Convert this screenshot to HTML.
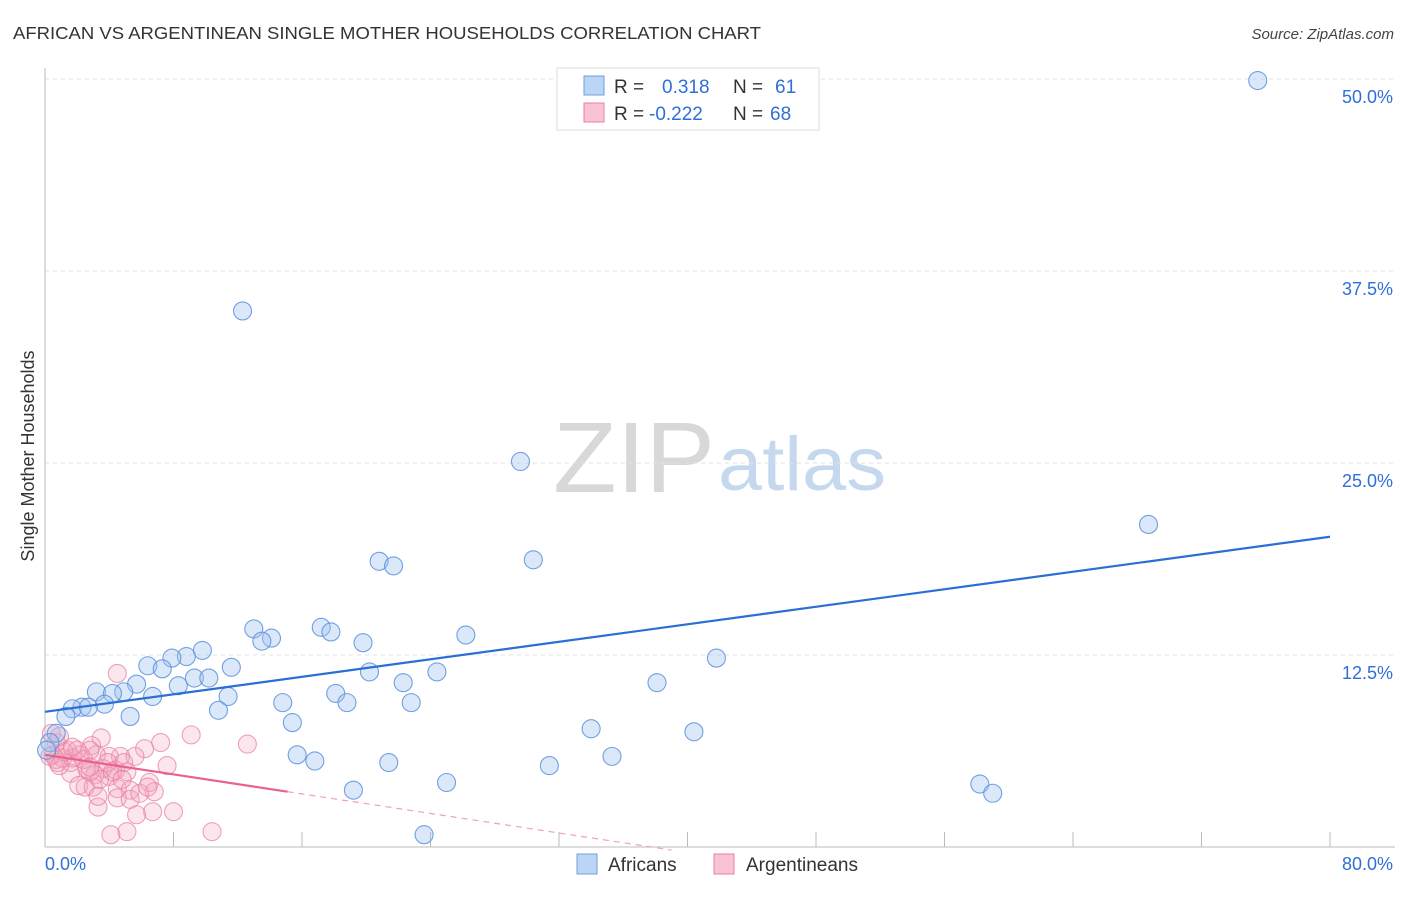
<!DOCTYPE html>
<html><head><meta charset="utf-8"><style>
body{margin:0;background:#fff;font-family:"Liberation Sans",sans-serif;}
svg text{font-family:"Liberation Sans",sans-serif;}
</style></head><body>
<svg id="chart" width="1406" height="892" xmlns="http://www.w3.org/2000/svg">
<text x="13" y="39" font-size="17.5" fill="#333" textLength="748" lengthAdjust="spacingAndGlyphs">AFRICAN VS ARGENTINEAN SINGLE MOTHER HOUSEHOLDS CORRELATION CHART</text>
<text x="1394" y="39" font-size="15" fill="#444" text-anchor="end" font-style="italic">Source: ZipAtlas.com</text>
<text x="553" y="492" font-size="100" fill="#d8d8d8" font-family="Liberation Serif,serif" textLength="162" lengthAdjust="spacingAndGlyphs">ZIP</text>
<text x="718" y="490" font-size="76" fill="#c5d8ee" textLength="168" lengthAdjust="spacingAndGlyphs">atlas</text>
<text transform="translate(34,456) rotate(-90)" font-size="18" fill="#333" text-anchor="middle">Single Mother Households</text>
<g id="grid"></g><g id="marks"></g>
<g>
<rect x="557" y="68" width="262" height="62" fill="#fff" stroke="#ddd"/>
<rect x="584" y="76" width="20" height="19" fill="#bcd4f5" stroke="#6a9fe0"/>
<rect x="584" y="103" width="20" height="19" fill="#f8c4d4" stroke="#e87fa0"/>
<text x="614" y="93" font-size="19" fill="#333">R =</text>
<text x="662" y="93" font-size="19" fill="#2f6fd6">0.318</text>
<text x="733" y="93" font-size="19" fill="#333">N =</text>
<text x="775" y="93" font-size="19" fill="#2f6fd6">61</text>
<text x="614" y="120" font-size="19" fill="#333">R =</text>
<text x="649" y="120" font-size="19" fill="#2f6fd6">-0.222</text>
<text x="733" y="120" font-size="19" fill="#333">N =</text>
<text x="770" y="120" font-size="19" fill="#2f6fd6">68</text>
</g>
<g>
<rect x="577" y="854" width="20" height="20" fill="#bcd4f5" stroke="#6a9fe0"/>
<text x="608" y="871" font-size="19" fill="#333">Africans</text>
<rect x="714" y="854" width="20" height="20" fill="#f8c4d4" stroke="#e87fa0"/>
<text x="746" y="871" font-size="19" fill="#333">Argentineans</text>
</g>
</svg>
<script>
const yTicks=[12.5,25,37.5,50];
const yTickLabels=["12.5%","25.0%","37.5%","50.0%"];
const xTicks=[0,8,16,24,32,40,48,56,64,72,80];
const africansX=[75.5,12.3,29.6,68.7,30.4,20.8,21.7,13.0,17.2,17.8,14.1,13.5,19.8,26.2,9.8,8.8,7.9,6.4,7.3,11.6,41.8,20.2,24.4,9.3,10.2,8.3,5.7,22.3,38.1,3.2,4.9,4.2,6.7,11.4,18.1,18.8,22.8,14.8,10.8,2.3,1.7,3.7,2.7,1.3,5.3,15.4,34.0,40.4,0.7,0.3,15.7,16.8,35.3,21.4,31.4,25.0,19.2,58.2,59.0,23.6,0.1];
const africansY=[49.9,34.9,25.1,21.0,18.7,18.6,18.3,14.2,14.3,14.0,13.6,13.4,13.3,13.8,12.8,12.4,12.3,11.8,11.6,11.7,12.3,11.4,11.4,11.0,11.0,10.5,10.6,10.7,10.7,10.1,10.1,10.0,9.8,9.8,10.0,9.4,9.4,9.4,8.9,9.1,9.0,9.3,9.1,8.5,8.5,8.1,7.7,7.5,7.4,6.8,6.0,5.6,5.9,5.5,5.3,4.2,3.7,4.1,3.5,0.8,6.3];
const argX=[4.5,9.1,12.6,7.2,6.2,3.5,2.9,7.6,5.6,4.7,4.0,3.2,2.2,1.4,0.7,0.5,0.8,1.6,2.6,3.6,4.4,5.1,1.6,3.1,4.0,2.1,2.5,3.0,4.5,5.3,6.5,6.8,4.5,5.3,3.3,5.9,6.4,8.0,6.7,5.7,5.1,4.1,10.4,0.7,0.3,1.7,1.1,1.2,2.4,3.9,4.9,2.8,0.4,0.9,2.0,3.4,0.9,1.7,4.2,2.8,4.8,3.3,2.8];
const argY=[11.3,7.3,6.7,6.8,6.4,7.1,6.6,5.3,5.9,5.9,5.9,6.0,6.0,6.3,6.8,6.0,5.5,5.5,5.1,5.1,5.0,4.9,4.8,4.7,4.6,4.0,3.9,3.9,3.8,3.7,4.2,3.6,3.2,3.1,2.6,3.5,3.9,2.3,2.3,2.1,1.0,0.8,1.0,5.7,5.9,5.8,5.8,6.2,5.7,5.5,5.5,6.3,7.4,7.2,6.3,4.4,5.3,6.5,4.9,4.9,4.4,3.3,5.2];
const blueTrend=[[0,8.8],[80,20.2]];
const pinkTrend=[[0,6.0],[15.1,3.6]];
const pinkDash=[[15.1,3.6],[39,-0.2]];

const NS="http://www.w3.org/2000/svg";
const X=v=>45+v*(1285/80), Y=v=>847-v*15.36;
const grid=document.getElementById('grid'), marks=document.getElementById('marks');
function mk(tag,attrs,parent){const e=document.createElementNS(NS,tag);for(const k in attrs)e.setAttribute(k,attrs[k]);parent.appendChild(e);return e;}
yTicks.forEach((t,i)=>{
  const l=mk('line',{x1:45,x2:1395,y1:Y(t),y2:Y(t),stroke:'#e2e2e2','stroke-dasharray':'4,4'},grid);
  
  
  const tx=mk('text',{x:1393,y:Y(t)+24,'font-size':18,fill:'#2f6fd6','text-anchor':'end'},grid);
  tx.textContent=yTickLabels[i];
  
  
});
xTicks.forEach(t=>{
  const l=mk('line',{x1:X(t),x2:X(t),y1:832,y2:847,stroke:'#bbb'},grid);
  
  
});
let a=mk('line',{x1:45,x2:45,y1:68,y2:847,stroke:'#bbb'},grid);


a=mk('line',{x1:45,x2:1395,y1:847,y2:847,stroke:'#bbb'},grid);


let t0=mk('text',{x:45,y:870,'font-size':18,fill:'#2f6fd6'},grid);t0.textContent='0.0%';


let t1=mk('text',{x:1393,y:870,'font-size':18,fill:'#2f6fd6','text-anchor':'end'},grid);t1.textContent='80.0%';



argX.forEach((x,i)=>{
  const c=mk('circle',{cx:X(x),cy:Y(argY[i]),r:9,fill:'rgba(245,165,192,0.28)',stroke:'rgba(232,130,165,0.75)','stroke-width':1.1},marks);
  
  
});
africansX.forEach((x,i)=>{
  const c=mk('circle',{cx:X(x),cy:Y(africansY[i]),r:9,fill:'rgba(160,195,240,0.38)',stroke:'rgba(90,145,220,0.85)','stroke-width':1.1},marks);
  
  
});
let tl=mk('line',{x1:X(blueTrend[0][0]),y1:Y(blueTrend[0][1]),x2:X(blueTrend[1][0]),y2:Y(blueTrend[1][1]),stroke:'#2a6fd6','stroke-width':2.2},marks);


tl=mk('line',{x1:X(pinkTrend[0][0]),y1:Y(pinkTrend[0][1]),x2:X(pinkTrend[1][0]),y2:Y(pinkTrend[1][1]),stroke:'#e8628c','stroke-width':2.2},marks);


tl=mk('line',{x1:X(pinkDash[0][0]),y1:Y(pinkDash[0][1]),x2:X(pinkDash[1][0]),y2:Y(pinkDash[1][1]),stroke:'#f0a0b8','stroke-width':1.2,'stroke-dasharray':'6,5'},marks);


</script>
</body></html>
